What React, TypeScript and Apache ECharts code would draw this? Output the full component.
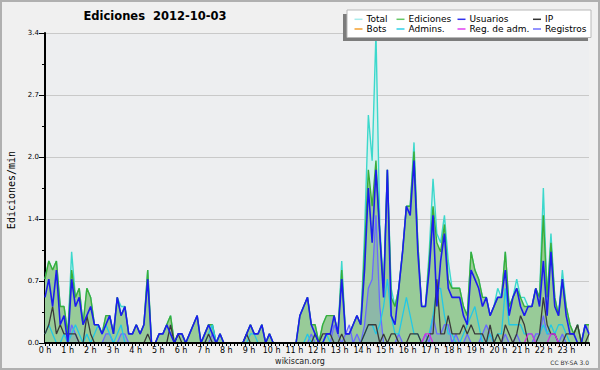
import React, { useEffect, useRef } from 'react';
import * as echarts from 'echarts';

// ---- Tick labels ----
const hourLabels = [
  '0 h', '1 h', '2 h', '3 h', '4 h', '5 h', '6 h', '7 h', '8 h', '9 h', '10 h', '11 h',
  '12 h', '13 h', '14 h', '15 h', '16 h', '17 h', '18 h', '19 h', '20 h', '21 h', '22 h', '23 h',
];
const yTickLabels = ['0.0', '0.7', '1.4', '2.0', '2.7', '3.4'];

// ---- Series (edits per minute, 10-minute bins, 2012-10-03) ----
const total = [
  0.7, 0.9, 0.8, 0.9, 0.4, 0.4, 0.1, 1.0, 0.5, 0.6, 0.2, 0.6,
  0.5, 0.2, 0.2, 0.1, 0.3, 0.3, 0.1, 0.5, 0.4, 0.4, 0.1, 0.1,
  0.2, 0.1, 0.2, 0.8, 0.0, 0.0, 0.1, 0.1, 0.2, 0.3, 0.0, 0.1,
  0.1, 0.0, 0.1, 0.2, 0.3, 0.0, 0.1, 0.2, 0.2, 0.0, 0.1, 0.0,
  0.0, 0.0, 0.0, 0.0, 0.0, 0.1, 0.2, 0.1, 0.1, 0.2, 0.0, 0.1,
  0.0, 0.0, 0.0, 0.0, 0.0, 0.0, 0.0, 0.3, 0.4, 0.5, 0.2, 0.2,
  0.0, 0.2, 0.3, 0.3, 0.3, 0.1, 0.9, 0.1, 0.1, 0.2, 0.3, 0.2,
  1.2, 2.5, 2.0, 3.4, 1.3, 0.6, 1.9, 0.6, 0.4, 0.6, 1.0, 1.5,
  1.5, 2.2, 1.1, 0.4, 0.4, 1.0, 1.8, 1.2, 1.1, 1.4, 0.9, 0.6,
  0.6, 0.6, 0.4, 0.3, 1.0, 0.8, 0.7, 0.5, 0.5, 0.3, 0.4, 0.6,
  0.5, 1.0, 0.4, 0.5, 0.7, 0.5, 0.5, 0.4, 0.4, 0.6, 0.5, 1.7,
  0.5, 1.2, 0.5, 0.3, 0.8, 0.4, 0.2, 0.1, 0.2, 0.0, 0.2, 0.2,
];
const ediciones = [
  0.7, 0.9, 0.8, 0.9, 0.4, 0.4, 0.1, 0.8, 0.5, 0.6, 0.2, 0.6,
  0.5, 0.2, 0.2, 0.1, 0.3, 0.3, 0.1, 0.5, 0.3, 0.4, 0.1, 0.1,
  0.2, 0.1, 0.2, 0.8, 0.0, 0.0, 0.1, 0.1, 0.2, 0.3, 0.0, 0.1,
  0.1, 0.0, 0.1, 0.2, 0.3, 0.0, 0.1, 0.2, 0.2, 0.0, 0.1, 0.0,
  0.0, 0.0, 0.0, 0.0, 0.0, 0.1, 0.2, 0.1, 0.1, 0.2, 0.0, 0.1,
  0.0, 0.0, 0.0, 0.0, 0.0, 0.0, 0.0, 0.3, 0.4, 0.5, 0.2, 0.2,
  0.0, 0.2, 0.3, 0.3, 0.3, 0.1, 0.8, 0.1, 0.1, 0.2, 0.3, 0.2,
  1.0, 1.9, 1.5, 2.0, 1.2, 0.6, 1.9, 0.5, 0.4, 0.6, 1.0, 1.5,
  1.5, 2.1, 1.1, 0.4, 0.4, 0.9, 1.5, 1.1, 1.0, 1.3, 0.7, 0.6,
  0.6, 0.6, 0.4, 0.3, 1.0, 0.8, 0.7, 0.5, 0.5, 0.3, 0.4, 0.5,
  0.5, 1.0, 0.4, 0.5, 0.6, 0.5, 0.4, 0.4, 0.4, 0.6, 0.5, 1.4,
  0.5, 1.1, 0.5, 0.3, 0.7, 0.4, 0.2, 0.1, 0.2, 0.0, 0.2, 0.2,
];
const usuarios = [
  0.5, 0.7, 0.4, 0.8, 0.2, 0.3, 0.0, 0.7, 0.4, 0.5, 0.2, 0.3,
  0.4, 0.2, 0.2, 0.1, 0.2, 0.3, 0.1, 0.5, 0.3, 0.4, 0.1, 0.1,
  0.2, 0.1, 0.2, 0.7, 0.0, 0.0, 0.1, 0.1, 0.2, 0.1, 0.0, 0.1,
  0.1, 0.0, 0.1, 0.2, 0.3, 0.0, 0.1, 0.2, 0.1, 0.0, 0.1, 0.0,
  0.0, 0.0, 0.0, 0.0, 0.0, 0.1, 0.2, 0.1, 0.1, 0.2, 0.0, 0.1,
  0.0, 0.0, 0.0, 0.0, 0.0, 0.0, 0.0, 0.3, 0.4, 0.5, 0.2, 0.1,
  0.0, 0.0, 0.1, 0.1, 0.3, 0.1, 0.7, 0.1, 0.1, 0.2, 0.3, 0.2,
  0.8, 1.7, 1.1, 1.9, 1.2, 0.5, 1.9, 0.3, 0.2, 0.6, 1.0, 1.5,
  1.4, 2.0, 1.0, 0.4, 0.4, 0.8, 1.4, 0.4, 0.9, 1.2, 0.6, 0.5,
  0.5, 0.5, 0.3, 0.2, 0.8, 0.7, 0.6, 0.4, 0.5, 0.3, 0.4, 0.5,
  0.5, 0.8, 0.3, 0.5, 0.6, 0.4, 0.3, 0.4, 0.4, 0.6, 0.4, 0.9,
  0.3, 1.0, 0.4, 0.3, 0.7, 0.3, 0.1, 0.1, 0.0, 0.0, 0.2, 0.1,
];
const ip = [
  0.1, 0.2, 0.4, 0.1, 0.2, 0.1, 0.1, 0.1, 0.1, 0.0, 0.0, 0.3,
  0.1, 0.0, 0.0, 0.0, 0.0, 0.0, 0.0, 0.0, 0.0, 0.0, 0.0, 0.0,
  0.0, 0.0, 0.0, 0.1, 0.0, 0.0, 0.0, 0.0, 0.0, 0.2, 0.0, 0.1,
  0.0, 0.0, 0.0, 0.0, 0.0, 0.0, 0.0, 0.1, 0.0, 0.0, 0.0, 0.0,
  0.0, 0.0, 0.0, 0.0, 0.0, 0.1, 0.0, 0.0, 0.0, 0.0, 0.0, 0.0,
  0.0, 0.0, 0.0, 0.0, 0.0, 0.0, 0.0, 0.0, 0.0, 0.0, 0.0, 0.1,
  0.0, 0.1, 0.1, 0.1, 0.0, 0.0, 0.1, 0.0, 0.0, 0.0, 0.0, 0.0,
  0.1, 0.2, 0.2, 0.2, 0.0, 0.1, 0.0, 0.1, 0.1, 0.0, 0.0, 0.0,
  0.1, 0.1, 0.1, 0.0, 0.0, 0.1, 0.1, 0.7, 0.1, 0.1, 0.3, 0.1,
  0.1, 0.1, 0.2, 0.1, 0.2, 0.1, 0.1, 0.1, 0.0, 0.2, 0.0, 0.1,
  0.0, 0.2, 0.1, 0.0, 0.1, 0.3, 0.2, 0.0, 0.0, 0.0, 0.1, 0.5,
  0.2, 0.1, 0.1, 0.0, 0.0, 0.1, 0.1, 0.1, 0.2, 0.0, 0.0, 0.1,
];
const bots = [
  0, 0, 0, 0, 0, 0, 0, 0, 0, 0, 0, 0, 0, 0, 0, 0, 0, 0, 0, 0, 0, 0, 0, 0,
  0, 0, 0, 0, 0, 0, 0, 0, 0, 0, 0, 0, 0, 0, 0, 0, 0, 0, 0, 0, 0, 0, 0, 0,
  0, 0, 0, 0, 0, 0, 0, 0, 0, 0, 0, 0, 0, 0, 0, 0, 0, 0, 0, 0, 0, 0, 0, 0,
  0, 0, 0, 0, 0, 0, 0, 0, 0, 0, 0, 0, 0, 0, 0, 0, 0, 0, 0, 0, 0, 0, 0, 0,
  0, 0, 0, 0, 0, 0, 0, 0, 0, 0, 0, 0, 0, 0, 0, 0, 0, 0, 0, 0, 0, 0, 0, 0,
  0, 0, 0, 0, 0, 0, 0, 0, 0, 0, 0, 0, 0, 0, 0, 0, 0, 0, 0, 0, 0, 0, 0, 0,
];
const admins = [
  0.1, 0.2, 0.1, 0.0, 0.0, 0.1, 0.0, 0.1, 0.2, 0.1, 0.0, 0.1,
  0.0, 0.1, 0.2, 0.1, 0.2, 0.1, 0.0, 0.1, 0.2, 0.0, 0.0, 0.0,
  0.0, 0.0, 0.0, 0.0, 0.0, 0.0, 0.0, 0.0, 0.0, 0.0, 0.0, 0.0,
  0.0, 0.0, 0.0, 0.0, 0.0, 0.0, 0.0, 0.1, 0.2, 0.0, 0.0, 0.0,
  0.0, 0.0, 0.0, 0.0, 0.0, 0.0, 0.1, 0.1, 0.0, 0.0, 0.0, 0.0,
  0.0, 0.0, 0.0, 0.0, 0.0, 0.0, 0.0, 0.0, 0.0, 0.1, 0.0, 0.1,
  0.0, 0.0, 0.1, 0.0, 0.0, 0.0, 0.0, 0.0, 0.0, 0.0, 0.0, 0.0,
  0.1, 0.2, 0.2, 0.1, 0.2, 0.4, 0.7, 0.3, 0.1, 0.1, 0.3, 0.5,
  0.3, 0.1, 0.1, 0.0, 0.0, 0.1, 0.3, 0.6, 0.6, 0.3, 0.1, 0.1,
  0.0, 0.0, 0.1, 0.2, 0.3, 0.4, 0.2, 0.0, 0.0, 0.1, 0.0, 0.1,
  0.1, 0.6, 0.2, 0.2, 0.2, 0.2, 0.1, 0.1, 0.1, 0.0, 0.1, 0.2,
  0.1, 0.2, 0.1, 0.2, 0.2, 0.1, 0.0, 0.0, 0.0, 0.0, 0.0, 0.0,
];
const regAdm = [
  0, 0, 0, 0, 0, 0, 0, 0, 0, 0, 0, 0, 0, 0, 0, 0, 0, 0, 0, 0, 0, 0, 0, 0,
  0, 0, 0, 0, 0, 0, 0, 0, 0, 0, 0, 0, 0, 0, 0, 0, 0, 0, 0, 0, 0, 0, 0, 0,
  0, 0, 0, 0, 0, 0, 0, 0, 0, 0, 0, 0, 0, 0, 0, 0, 0, 0, 0, 0, 0, 0, 0, 0,
  0, 0, 0, 0, 0, 0, 0, 0, 0, 0, 0, 0, 0, 0, 0, 0, 0, 0, 0, 0, 0, 0, 0, 0,
  0, 0, 0, 0, 0.1, 0.1, 0, 0, 0, 0, 0, 0, 0, 0, 0, 0, 0, 0, 0, 0, 0, 0, 0, 0,
  0, 0, 0, 0, 0, 0, 0, 0.1, 0.1, 0, 0, 0, 0, 0.1, 0.1, 0, 0, 0, 0, 0, 0, 0, 0, 0,
];
const registros = [
  0.0, 0.0, 0.0, 0.0, 0.0, 0.0, 0.0, 0.2, 0.1, 0.0, 0.0, 0.0,
  0.0, 0.0, 0.0, 0.0, 0.1, 0.1, 0.0, 0.0, 0.1, 0.1, 0.0, 0.0,
  0.0, 0.0, 0.0, 0.0, 0.0, 0.0, 0.0, 0.0, 0.0, 0.0, 0.0, 0.0,
  0.0, 0.0, 0.0, 0.0, 0.0, 0.0, 0.0, 0.0, 0.1, 0.0, 0.0, 0.0,
  0.0, 0.0, 0.0, 0.0, 0.0, 0.0, 0.0, 0.0, 0.0, 0.0, 0.0, 0.0,
  0.0, 0.0, 0.0, 0.0, 0.0, 0.0, 0.0, 0.0, 0.0, 0.0, 0.1, 0.0,
  0.0, 0.0, 0.0, 0.0, 0.2, 0.1, 0.0, 0.1, 0.2, 0.0, 0.1, 0.0,
  0.2, 0.6, 0.7, 1.4, 0.4, 0.0, 0.0, 0.0, 0.0, 0.1, 0.0, 0.0,
  0.0, 0.0, 0.0, 0.0, 0.1, 0.0, 0.3, 0.1, 0.1, 0.2, 0.2, 0.0,
  0.1, 0.0, 0.0, 0.1, 0.0, 0.0, 0.0, 0.1, 0.2, 0.1, 0.0, 0.0,
  0.0, 0.1, 0.0, 0.0, 0.1, 0.0, 0.0, 0.0, 0.0, 0.1, 0.1, 0.3,
  0.1, 0.1, 0.1, 0.0, 0.1, 0.0, 0.0, 0.0, 0.0, 0.0, 0.0, 0.0,
];

const legendRows = [
  ['Total', 'Ediciones', 'Usuarios', 'IP'],
  ['Bots', 'Admins.', 'Reg. de adm.', 'Registros'],
];
const legendColors: Record<string, string> = {
  Total: '#a8ecec',
  Ediciones: '#66c866',
  Usuarios: '#3030ee',
  IP: '#333333',
  Bots: '#f5a030',
  'Admins.': '#30d0e8',
  'Reg. de adm.': '#e040f0',
  Registros: '#7070ff',
};

const FONT = 'DejaVu Sans, Verdana, sans-serif';

export default function App() {
  const ref = useRef<HTMLDivElement>(null);
  useEffect(() => {
    if (!ref.current) return;
    const chart = echarts.init(ref.current, undefined, { renderer: 'svg' });
    const n = total.length;
    const times = total.map((_, i) => (i * 24) / (n - 1));
    const toData = (vals: number[]) => vals.map((v, i) => [times[i], v]);

    const line = (name: string, vals: number[], color: string, width: number, z: number, area?: string) => ({
      name,
      type: 'line',
      data: toData(vals),
      symbol: 'none',
      showSymbol: false,
      silent: true,
      z,
      lineStyle: { color, width },
      itemStyle: { color },
      areaStyle: area ? { color: area, opacity: 1 } : undefined,
    });

    const series = [
      line('Total', total, '#3cd8cc', 1.4, 2, '#d2f1ee'),
      line('Ediciones', ediciones, '#3aae3a', 1.4, 3, '#98cb98'),
      { ...line('Registros', registros, '#6a6aff', 1.3, 4), areaStyle: { color: 'rgba(90,90,255,0.16)', opacity: 1 } },
      line('Admins.', admins, '#22c8e6', 1.3, 5),
      line('IP', ip, '#3a3a3a', 1.3, 6),
      line('Bots', bots, '#f5a030', 1.3, 6),
      line('Reg. de adm.', regAdm, '#d030e0', 1.3, 7),
      line('Usuarios', usuarios, '#1c1cee', 1.6, 8),
    ];

    const legendGraphics: any[] = [
      { type: 'rect', shape: { x: 343, y: 14, width: 245, height: 27 }, style: { fill: '#7c7c7c' }, z: 100 },
      { type: 'rect', shape: { x: 347, y: 10, width: 244, height: 27.5 }, style: { fill: '#ffffff', stroke: '#b8b8b8', lineWidth: 1 }, z: 101 },
    ];
    const colTextX = [366.5, 408.5, 469.5, 545];
    const rowY = [19.3, 29];
    legendRows.forEach((row, r) => {
      row.forEach((name, c) => {
        const tx = colTextX[c];
        legendGraphics.push({
          type: 'line',
          shape: { x1: tx - 12, y1: rowY[r], x2: tx - 4, y2: rowY[r] },
          style: { stroke: legendColors[name], lineWidth: 1.5 },
          z: 102,
        });
        legendGraphics.push({
          type: 'text',
          x: tx,
          y: rowY[r],
          style: { text: name, fill: '#000', font: `9px ${FONT}`, textAlign: 'left', textVerticalAlign: 'middle' },
          z: 102,
        });
      });
    });

    chart.setOption({
      animation: false,
      backgroundColor: '#f0f0f0',
      grid: {
        left: 45,
        right: 11,
        top: 33,
        bottom: 27,
        show: true,
        backgroundColor: '#edeef0',
        borderWidth: 0,
        outerBoundsMode: 'none',
      },
      xAxis: {
        type: 'value',
        min: 0,
        max: 24,
        interval: 1,
        z: 10,
        axisLine: { show: true, onZero: false, lineStyle: { color: '#000', width: 2 } },
        axisTick: { show: true, length: 3, lineStyle: { color: '#000', width: 1 } },
        minorTick: { show: true, splitNumber: 6, length: 3, lineStyle: { color: '#000', width: 1 } },
        splitLine: { show: false },
        minorSplitLine: { show: false },
        axisLabel: {
          fontSize: 8,
          fontFamily: FONT,
          color: '#000',
          margin: 3,
          formatter: (v: number) => hourLabels[Math.round(v)] ?? '',
        },
      },
      yAxis: {
        type: 'value',
        min: 0,
        max: 3.4,
        interval: 0.68,
        axisLine: { show: true, lineStyle: { color: '#000', width: 2 } },
        axisTick: { show: true, length: 6, lineStyle: { color: '#000', width: 1 } },
        minorTick: { show: true, splitNumber: 2, length: 3, lineStyle: { color: '#000', width: 1 } },
        splitLine: { show: true, lineStyle: { color: '#c9c9c9', width: 1 } },
        axisLabel: {
          fontSize: 7,
          fontFamily: FONT,
          color: '#000',
          margin: 6,
          formatter: (v: number) => yTickLabels[Math.round(v / 0.68)] ?? '',
        },
      },
      series,
      graphic: [
        { type: 'rect', shape: { x: 1, y: 1, width: 598, height: 368 }, style: { fill: 'none', stroke: '#b0b0b0', lineWidth: 2 }, z: 50 },
        {
          type: 'text', x: 155, y: 16,
          style: { text: 'Ediciones  2012-10-03', fill: '#000', font: `bold 11.5px ${FONT}`, textAlign: 'center', textVerticalAlign: 'middle' },
          z: 50,
        },
        {
          type: 'text', x: 11, y: 190, rotation: Math.PI / 2,
          style: { text: 'Ediciones/min', fill: '#000', font: `10px DejaVu Sans Mono, monospace`, textAlign: 'center', textVerticalAlign: 'middle' },
          z: 50,
        },
        {
          type: 'text', x: 300, y: 361.5,
          style: { text: 'wikiscan.org', fill: '#222', font: `8px ${FONT}`, textAlign: 'center', textVerticalAlign: 'middle' },
          z: 50,
        },
        {
          type: 'text', x: 589, y: 362.5,
          style: { text: 'CC BY-SA 3.0', fill: '#333', font: `6px ${FONT}`, textAlign: 'right', textVerticalAlign: 'middle' },
          z: 50,
        },
        ...legendGraphics,
      ],
    });
    return () => chart.dispose();
  }, []);
  return <div ref={ref} style={{ position: 'absolute', left: 0, top: 0, width: 600, height: 370 }} />;
}
